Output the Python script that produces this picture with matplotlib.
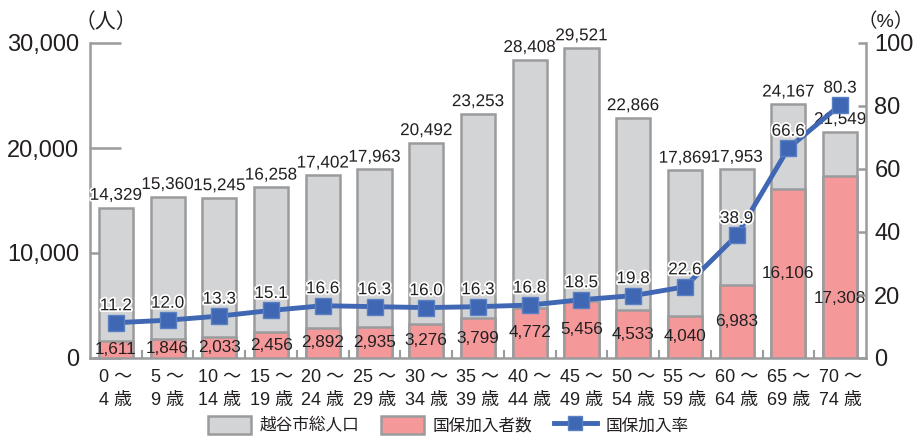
import matplotlib.pyplot as plt
import matplotlib.patheffects as pe
from matplotlib.patches import Patch
from matplotlib.lines import Line2D
import numpy as np

plt.rcParams['font.family'] = ['Liberation Sans', 'Noto Sans CJK JP', 'DejaVu Sans']

ages = ["0 ～\n4 歳", "5 ～\n9 歳", "10 ～\n14 歳", "15 ～\n19 歳", "20 ～\n24 歳",
        "25 ～\n29 歳", "30 ～\n34 歳", "35 ～\n39 歳", "40 ～\n44 歳", "45 ～\n49 歳",
        "50 ～\n54 歳", "55 ～\n59 歳", "60 ～\n64 歳", "65 ～\n69 歳", "70 ～\n74 歳"]
total = [14329, 15360, 15245, 16258, 17402, 17963, 20492, 23253, 28408, 29521,
         22866, 17869, 17953, 24167, 21549]
insured = [1611, 1846, 2033, 2456, 2892, 2935, 3276, 3799, 4772, 5456,
           4533, 4040, 6983, 16106, 17308]
rate = [11.2, 12.0, 13.3, 15.1, 16.6, 16.3, 16.0, 16.3, 16.8, 18.5,
        19.8, 22.6, 38.9, 66.6, 80.3]

GRAY = "#d3d4d6"
EDGE = "#9a9b9d"
PINK = "#f4989a"
BLUE = "#3f67b3"
TXT = "#231f20"
halo = [pe.withStroke(linewidth=2.5, foreground="white")]

fig = plt.figure(figsize=(9.15, 4.42), dpi=100)
ax = fig.add_axes([90 / 915, 1 - 358 / 442, 776 / 915, 315 / 442])
x = np.arange(len(ages))
w = 0.66

ax.bar(x, total, w, color=GRAY, edgecolor=EDGE, linewidth=1.8, zorder=2)
ax.bar(x, insured, w, color=PINK, edgecolor=EDGE, linewidth=1.8, zorder=3)

ax.set_xlim(-0.5, len(ages) - 0.5)
ax.set_ylim(0, 30000)
ax.set_yticks([0, 10000, 20000, 30000])
ax.set_yticklabels(["0", "10,000", "20,000", "30,000"], fontsize=17, color=TXT)
ax.tick_params(axis="y", direction="in", length=22, width=1.8, color=EDGE, pad=8)
ax.set_xticks(x)
ax.set_xticklabels(ages, fontsize=13, color=TXT, linespacing=1.45)
ax.tick_params(axis="x", length=0, pad=8)
ax.set_xticks(x[:-1] + 0.5, minor=True)
ax.tick_params(axis="x", which="minor", direction="in", length=6, width=1.5, color=EDGE)
for s in ["top", "right"]:
    ax.spines[s].set_visible(False)
for s in ["left", "bottom"]:
    ax.spines[s].set_color(EDGE)
    ax.spines[s].set_linewidth(1.8)

for xi, t in zip(x, total):
    ax.text(xi, t + 450, f"{t:,}", ha="center", va="bottom", fontsize=12.3,
            color=TXT, zorder=6, clip_on=False, path_effects=halo)
for xi, v in zip(x, insured):
    ax.text(xi, v / 2 if v < 17000 else 5700, f"{v:,}", ha="center", va="center",
            fontsize=12.3, color=TXT, zorder=6)

ax2 = ax.twinx()
ax2.set_ylim(0, 100)
ax2.plot(x, rate, color=BLUE, linewidth=3.5, marker="s", markersize=11,
         markerfacecolor=BLUE, markeredgecolor="#5a80c4", markeredgewidth=1, zorder=5)
for xi, r in zip(x, rate):
    ax2.text(xi, r + 3.0, f"{r:.1f}", ha="center", va="bottom", fontsize=12.3,
             color=TXT, zorder=6, path_effects=halo)
ax2.set_yticks([0, 20, 40, 60, 80, 100])
ax2.set_yticklabels(["0", "20", "40", "60", "80", "100"], fontsize=17, color=TXT)
ax2.tick_params(axis="y", direction="in", length=6, width=1.8, color=EDGE, pad=6)
for s in ["top", "left", "bottom"]:
    ax2.spines[s].set_visible(False)
ax2.spines["right"].set_color(EDGE)
ax2.spines["right"].set_linewidth(1.8)

fig.text(106 / 915, 1 - 22 / 442, "（人）", ha="center", va="center", fontsize=15, color=TXT)
fig.text(886 / 915, 1 - 22 / 442, "（%）", ha="center", va="center", fontsize=14, color=TXT)

handles = [Patch(facecolor=GRAY, edgecolor=EDGE, linewidth=1.8),
           Patch(facecolor=PINK, edgecolor=EDGE, linewidth=1.8),
           Line2D([], [], color=BLUE, linewidth=3.5, marker="s", markersize=10,
                  markerfacecolor=BLUE, markeredgecolor="#5a80c4")]
fig.legend(handles, ["越谷市総人口", "国保加入者数", "国保加入率"], loc="center",
           bbox_to_anchor=(448 / 915, 1 - 425 / 442), ncol=3, frameon=False,
           fontsize=12, handlelength=2.6, handleheight=1.25, columnspacing=1.3,
           handletextpad=0.5, labelcolor=TXT)

fig.savefig("out.png", dpi=100)
